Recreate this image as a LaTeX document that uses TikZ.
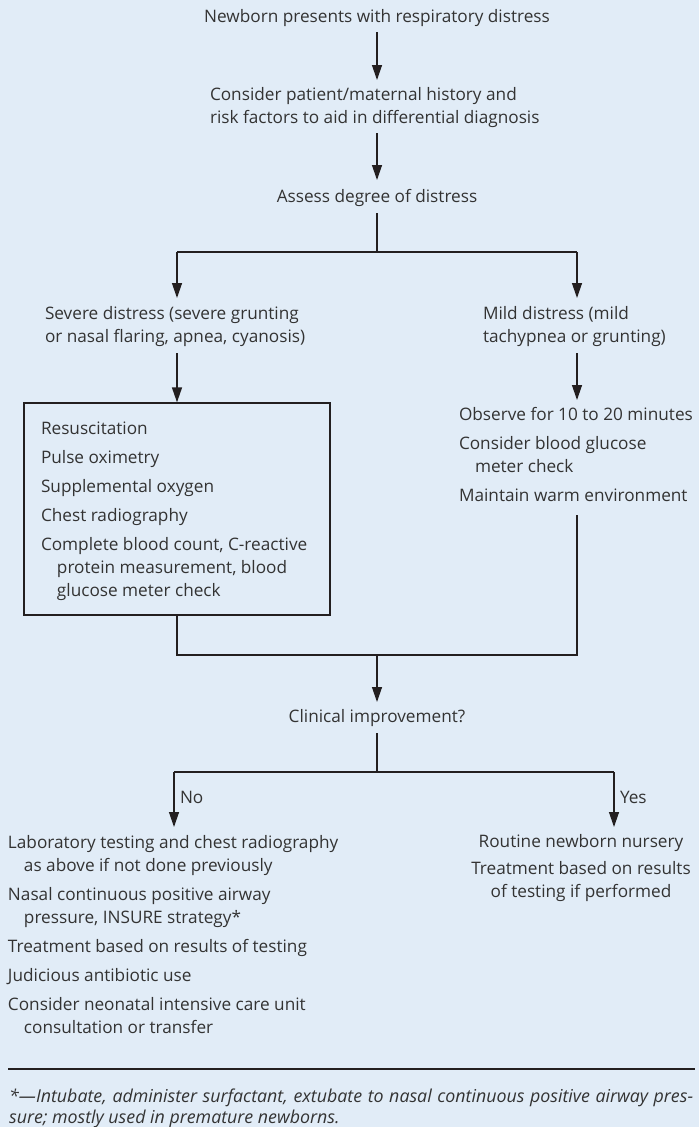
\documentclass[tikz,border=0pt]{standalone}
\usepackage{fontspec}
\setmainfont{Open Sans}
\usetikzlibrary{arrows.meta}
\definecolor{bg}{HTML}{E1ECF7}
\definecolor{ink}{HTML}{333333}
\definecolor{ln}{HTML}{231F20}
\newcommand{\mainfs}{\fontsize{17.2}{23}\selectfont}
\newcommand{\fnfs}{\itshape\fontsize{17.8}{21}\selectfont}
\newcommand{\tp}{\rule{0pt}{13.5pt}}
\newcommand{\bt}{\rule[-4.5pt]{0pt}{4.5pt}}
\newcommand{\ind}{\hspace*{16pt}}
\newsavebox\fnbox
\begin{document}
\sbox\fnbox{\fnfs *—Intubate, administer surfactant, extubate to nasal continuous positive airway pres-}
\pgfmathsetmacro\fnfac{min(1,684/(\the\wd\fnbox))}
\pgfmathsetlengthmacro\fnw{684pt/\fnfac}
\begin{tikzpicture}[x=1pt,y=-1pt,
  txt/.style={inner sep=0pt, outer sep=0pt, text=ink, font=\mainfs, align=left},
  one/.style={txt, text height=13.5pt, text depth=4.5pt},
  conn/.style={draw=ln, line width=1.3pt},
  arr/.style={conn, -{Triangle[length=15pt,width=10pt]}},
  boxstyle/.style={draw=ln, line width=1.3pt, minimum width=306pt, minimum height=212pt, inner sep=0pt}
]
\fill[bg] (0,0) rectangle (699,1127);
\useasboundingbox (0,0) rectangle (699,1127);

% top
\node[one, anchor=north] (title) at (377,9.5) {Newborn presents with respiratory distress};
\node[txt, anchor=north west] (consider) at (210,86.5)
  {\tp Consider patient/maternal history and\\risk factors to aid in differential diagnosis\bt};
\node[one, anchor=north] (assess) at (377,188.5) {Assess degree of distress};

\draw[arr, shorten <=4.5pt, shorten >=6.5pt] (title.south) -- (title.south |- consider.north);
\draw[arr, shorten <=5.5pt, shorten >=8.5pt] (title.south |- consider.south) -- (assess.north);

\coordinate (j1) at (377,252);
\coordinate (j1l) at (177,252);
\coordinate (j1r) at (577,252);
\draw[conn, shorten <=6.5pt] (assess.south) -- (j1);
\draw[conn] (j1l) -- (j1r);

% branches
\node[txt, anchor=north west] (severe) at (45,305.5)
  {\tp Severe distress (severe grunting\\or nasal flaring, apnea, cyanosis)\bt};
\node[txt, anchor=north west] (mild) at (483,305.5)
  {\tp Mild distress (mild\\tachypnea or grunting)\bt};
\draw[arr, shorten >=7.5pt] (j1l) -- (j1l |- severe.north);
\draw[arr, shorten >=7.5pt] (j1r) -- (j1r |- mild.north);

\node[boxstyle] (box) at (177,509) {};
\node[txt, anchor=north west] (boxlist) at (41,420.5)
  {\tp Resuscitation\\[6pt]
   Pulse oximetry\\[6pt]
   Supplemental oxygen\\[6pt]
   Chest radiography\\[6pt]
   Complete blood count, C-reactive\\
   \ind protein measurement, blood\\
   \ind glucose meter check\bt};
\draw[arr, shorten <=6.5pt] (box.north |- severe.south) -- (box.north);

\node[txt, anchor=north west] (obs) at (459,406.5)
  {\tp Observe for 10 to 20 minutes\\[6pt]
   Consider blood glucose\\
   \ind meter check\\[6pt]
   Maintain warm environment\bt};
\draw[arr, shorten <=6.5pt, shorten >=6.5pt] (j1r |- mild.south) -- (j1r |- obs.north);

% merge
\coordinate (m1) at (177,655);
\coordinate (m2) at (577,655);
\coordinate (m) at (377,655);
\draw[conn, shorten <=9.5pt] (m2 |- obs.south) -- (m2) -- (m1) -- (box.south);

\node[one, anchor=north] (clin) at (377,708.5) {Clinical improvement?};
\draw[arr, shorten >=6.5pt] (m) -- (clin.north);

\coordinate (j2) at (377,772);
\coordinate (j2l) at (174,772);
\coordinate (j2r) at (614,772);
\draw[conn, shorten <=6.5pt] (clin.south) -- (j2);
\draw[conn] (j2l) -- (j2r);

\node[txt, anchor=north west] (nolist) at (8,834.5)
  {\tp Laboratory testing and chest radiography\\
   \ind as above if not done previously\\[6pt]
   Nasal continuous positive airway\\
   \ind pressure, INSURE strategy*\\[6pt]
   Treatment based on results of testing\\[6pt]
   Judicious antibiotic use\\[6pt]
   Consider neonatal intensive care unit\\
   \ind consultation or transfer\bt};
\node[txt, align=center, anchor=north] (yeslist) at (581,833.5)
  {\tp Routine newborn nursery\\[4pt]
   Treatment based on results\\
   of testing if performed\bt};
\draw[arr, shorten >=7.5pt] (j2l) -- (j2l |- nolist.north);
\draw[arr, shorten >=6.5pt] (j2r) -- (j2r |- yeslist.north);
\node[txt, anchor=base west] (no) at (180,803) {No};
\node[txt, anchor=base west] (yes) at (620,803) {Yes};

% footnote
\coordinate (f1) at (8,1069);
\coordinate (f2) at (695,1069);
\draw[draw=ln, line width=1.2pt] (f1) -- (f2);
\node[inner sep=0pt, text=ink, anchor=base west, align=left, font=\fnfs] (foot) at (9,1123)
  {\scalebox{\fnfac}[1]{\makebox[\fnw][s]{*—Intubate, administer surfactant, extubate to nasal continuous positive airway pres-}}\\
   \scalebox{\fnfac}[1]{sure; mostly used in premature newborns.}};
\end{tikzpicture}
\end{document}
